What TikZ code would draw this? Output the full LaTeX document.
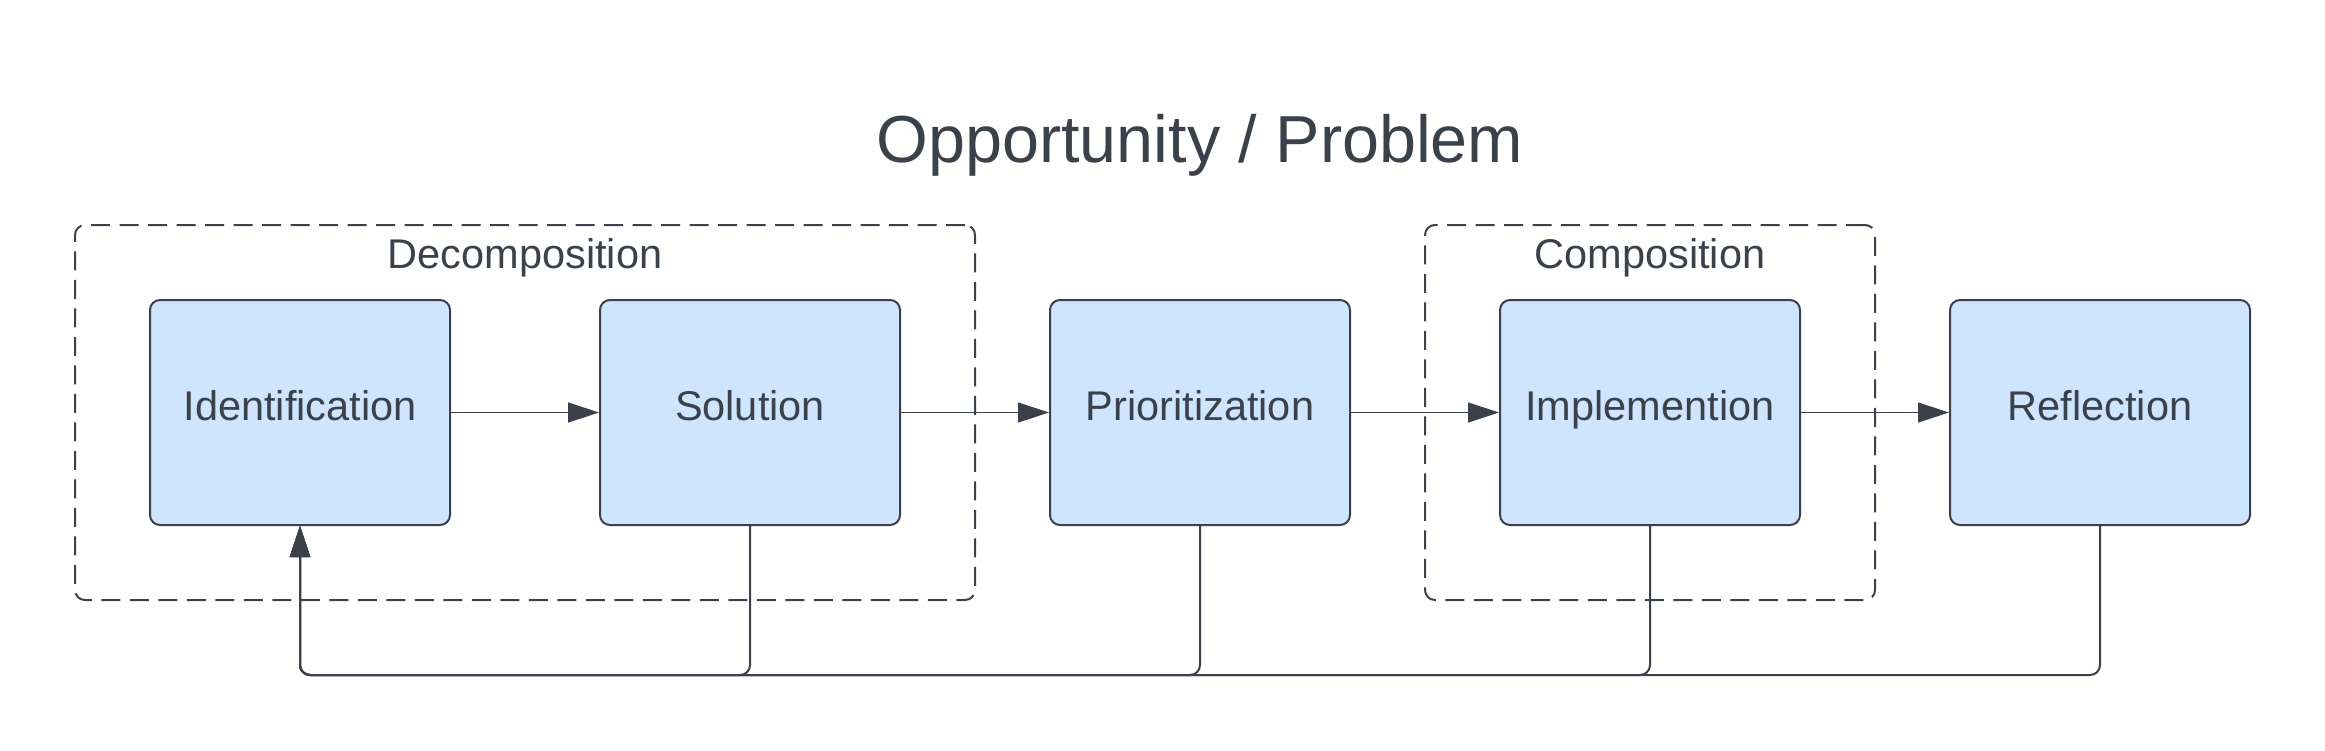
\documentclass[tikz,border=0pt]{standalone}
\usepackage{fontspec}
\setmainfont{Liberation Sans}
\usetikzlibrary{arrows.meta,calc}
\definecolor{ink}{RGB}{58,65,74}
\definecolor{boxfill}{RGB}{207,228,255}
\begin{document}
\begin{tikzpicture}[x=1pt,y=-1pt,
  stagebox/.style={draw=ink, line width=2pt, fill=boxfill, rounded corners=10pt,
    minimum width=300pt, minimum height=225pt, inner sep=0pt, text=ink,
    font=\fontsize{41.5}{50}\selectfont, text height=30pt, text depth=15pt},
  groupbox/.style={draw=ink, line width=2pt, dash pattern=on 19pt off 9.5pt,
    rounded corners=10pt, inner sep=0pt},
  grouplabel/.style={text=ink, font=\fontsize{41.5}{50}\selectfont, anchor=base, inner sep=0pt},
  titlelabel/.style={text=ink, font=\fontsize{66.5}{80}\selectfont, anchor=base, inner sep=0pt},
  flow/.style={draw=ink, line width=1.4pt, -{Triangle[length=31pt,width=20pt]}},
  back/.style={draw=ink, line width=2pt, rounded corners=10pt, -{Triangle[length=31pt,width=20pt]}}
]
\useasboundingbox (0,0) rectangle (2325,750);

\node[titlelabel] (title) at (1200,162) {Opportunity / Problem};

\node[groupbox, minimum width=900pt, minimum height=375pt] (dec) at (525,412.5) {};
\node[grouplabel] (declab) at (525,268) {Decomposition};
\node[groupbox, minimum width=450pt, minimum height=375pt] (com) at (1650,412.5) {};
\node[grouplabel] (comlab) at (1650,268) {Composition};

\node[stagebox] (id)  at (300,412.5)  {Identification};
\node[stagebox] (sol) at (750,412.5)  {Solution};
\node[stagebox] (pri) at (1200,412.5) {Prioritization};
\node[stagebox] (imp) at (1650,412.5) {Implemention};
\node[stagebox] (ref) at (2100,412.5) {Reflection};

\draw[flow] (id.east) -- (sol.west);
\draw[flow] (sol.east) -- (pri.west);
\draw[flow] (pri.east) -- (imp.west);
\draw[flow] (imp.east) -- (ref.west);

\coordinate (bl) at (300,675);
\draw[back] (ref.south) |- (bl) -- (id.south);
\draw[back] (imp.south) |- (bl) -- (id.south);
\draw[back] (pri.south) |- (bl) -- (id.south);
\draw[back] (sol.south) |- (bl) -- (id.south);
\end{tikzpicture}
\end{document}
